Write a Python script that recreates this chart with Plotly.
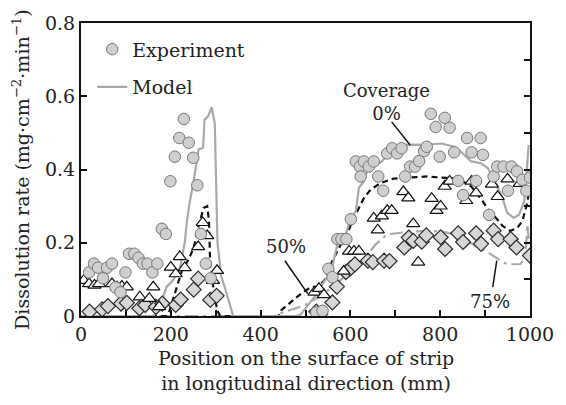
import plotly.graph_objects as go

# ---------------- data ----------------
# Experiment, coverage 0 % (circles)
exp0_x = [18, 29, 38, 49, 58, 69, 77, 88, 99, 107, 119, 128, 138, 148, 159, 170, 180, 189, 199, 209,
          219, 229, 240, 250, 259, 267, 278, 289,
          524, 538, 551, 560, 571, 580, 591, 601, 612, 621, 623, 630, 641, 652, 662, 673, 682, 693,
          704, 714, 722, 733, 744, 753, 764, 770, 779, 790, 799, 810, 821, 831, 840, 851, 860, 870,
          880, 890, 895, 909, 919, 927, 941, 951, 959, 971, 983, 992, 1000]
exp0_y = [0.119, 0.143, 0.132, 0.103, 0.132, 0.143, 0.078, 0.065, 0.119, 0.170, 0.170, 0.159, 0.143,
          0.143, 0.119, 0.143, 0.238, 0.224, 0.368, 0.435, 0.486, 0.538, 0.473, 0.432, 0.357, 0.224,
          0.143, 0.103,
          0.010, 0.014, 0.129, 0.106, 0.210, 0.210, 0.210, 0.264, 0.422, 0.408, 0.381, 0.422, 0.408,
          0.422, 0.381, 0.342, 0.444, 0.458, 0.444, 0.458, 0.381, 0.408, 0.408, 0.423, 0.450, 0.462,
          0.552, 0.516, 0.435, 0.541, 0.514, 0.447, 0.369, 0.330, 0.486, 0.447, 0.369, 0.486, 0.440,
          0.276, 0.381, 0.408, 0.408, 0.342, 0.408, 0.395, 0.372, 0.342, 0.378]

# Experiment, coverage 50 % (triangles)
exp50_x = [6, 18, 30, 40, 69, 80, 91, 102, 131, 152, 161, 174, 200, 211, 220, 231, 261, 271, 281, 294, 303,
           520, 530, 541, 585, 597, 608, 619, 652, 661, 670, 682, 692, 718, 729, 740, 751, 781, 792, 801,
           810, 821, 858, 870, 880, 915, 928, 950, 977, 998]
exp50_y = [0.097, 0.088, 0.084, 0.088, 0.088, 0.079, 0.081, 0.079, 0.052, 0.048, 0.079, 0.025, 0.133,
           0.115, 0.162, 0.132, 0.189, 0.255, 0.219, 0.097, 0.124,
           0.065, 0.075, 0.058, 0.122, 0.177, 0.177, 0.177, 0.267, 0.235, 0.273, 0.288, 0.288, 0.339,
           0.322, 0.252, 0.147, 0.321, 0.288, 0.300, 0.354, 0.368, 0.315, 0.368, 0.336, 0.360, 0.326,
           0.374, 0.362, 0.374]

# Experiment, coverage 75 % (diamonds)
exp75_x = [19, 47, 60, 89, 102, 130, 143, 167, 181, 211, 222, 251, 261, 288, 302,
           524, 533, 560, 570, 590, 600, 610, 639, 650, 675, 687, 720, 730, 740, 759, 769, 801, 811,
           840, 851, 880, 891, 919, 929, 957, 970, 1000]
exp75_y = [0.012, 0.018, 0.027, 0.034, 0.036, 0.021, 0.030, 0.025, 0.034, 0.030, 0.045, 0.072, 0.102,
           0.044, 0.055,
           0.012, 0.005, 0.037, 0.080, 0.120, 0.130, 0.141, 0.151, 0.147, 0.151, 0.150, 0.187, 0.214,
           0.205, 0.203, 0.220, 0.215, 0.183, 0.226, 0.202, 0.226, 0.197, 0.233, 0.210, 0.210, 0.187,
           0.165]

# Model, coverage 0 % (solid gray)
mod0_x = [0, 160, 170, 183, 191, 203, 211, 219, 225, 231, 236, 242, 251, 256, 262, 269, 272, 275, 283,
          291, 298, 304, 312, 321, 332, 339, 480, 490, 512, 525, 542, 557, 571, 580, 590, 601, 612, 619,
          630, 637, 652, 670, 692, 714, 740, 758, 803, 832, 850, 869, 891, 906, 924, 939, 949, 964, 976,
          987, 993, 997]
mod0_y = [0, 0, 0.01, 0.05, 0.08, 0.095, 0.11, 0.12, 0.165, 0.20, 0.26, 0.31, 0.37, 0.41, 0.455, 0.458,
          0.46, 0.535, 0.545, 0.57, 0.525, 0.20, 0.11, 0.075, 0.025, 0, 0, 0.005, 0.04, 0.06, 0.095,
          0.12, 0.196, 0.21, 0.225, 0.268, 0.286, 0.35, 0.368, 0.395, 0.408, 0.422, 0.453, 0.467, 0.468,
          0.467, 0.471, 0.462, 0.444, 0.422, 0.417, 0.404, 0.363, 0.322, 0.282, 0.268, 0.277, 0.313,
          0.40, 0.467]

# Model, coverage 50 % (black dashed)
mod50_x = [0, 190, 196, 207, 215, 225, 240, 251, 261, 273, 281, 285, 288, 295, 303, 310, 440, 446, 468,
           490, 512, 527, 542, 560, 579, 597, 608, 619, 630, 645, 667, 696, 725, 770, 803, 840, 869, 895,
           909, 924, 939, 956, 972, 983, 993, 998]
mod50_y = [0, 0, 0.01, 0.055, 0.088, 0.125, 0.155, 0.187, 0.241, 0.295, 0.30, 0.26, 0.13, 0.07, 0.016,
           0, 0, 0.016, 0.039, 0.061, 0.079, 0.08, 0.097, 0.151, 0.196, 0.237, 0.268, 0.295, 0.322,
           0.345, 0.363, 0.375, 0.378, 0.381, 0.378, 0.375, 0.354, 0.313, 0.286, 0.268, 0.246, 0.232,
           0.241, 0.259, 0.305, 0.34]

# Model, coverage 75 % (gray dash-dot)
mod75_x = [0, 430, 450, 500, 540, 580, 620, 656, 682, 717, 760, 800, 840, 880, 906, 930, 949, 979, 990,
           994, 998]
mod75_y = [0, 0, 0.01, 0.03, 0.06, 0.10, 0.14, 0.195, 0.223, 0.228, 0.232, 0.232, 0.22, 0.19, 0.174,
           0.155, 0.141, 0.142, 0.16, 0.25, 0.2]

x_ticks = [0, 200, 400, 600, 800, 1000]
x_ticktext = ["0", "200", "400", "600", "800", "1000"]
y_ticks = [0, 0.2, 0.4, 0.6, 0.8]
y_ticktext = ["0", "0.2", "0.4", "0.6", "0.8"]
y2_ticks = [0, 0.1, 0.2, 0.3, 0.4, 0.5, 0.6, 0.7, 0.8]

# ---------------- figure ----------------
FONT = "DejaVu Serif"
FS = 19
TXT = "#222222"
GRAY_LINE = "#a9a9a9"
fig = go.Figure()

fig.add_trace(go.Scatter(x=mod75_x, y=mod75_y, mode="lines", showlegend=False,
                         line=dict(color=GRAY_LINE, width=2.2, dash="13px,5px,3px,5px")))
fig.add_trace(go.Scatter(x=mod50_x, y=mod50_y, mode="lines", showlegend=False,
                         line=dict(color="#111111", width=2.2, dash="6px,4px")))
fig.add_trace(go.Scatter(x=mod0_x, y=mod0_y, mode="lines", name="Model", legendgroup="m",
                         legendrank=2, line=dict(color=GRAY_LINE, width=2.2)))

fig.add_trace(go.Scatter(x=exp75_x, y=exp75_y, mode="markers", showlegend=False,
                         marker=dict(symbol="diamond", size=11.5, color="#d6d6d6",
                                     line=dict(color="#2a2a2a", width=1.2))))
fig.add_trace(go.Scatter(x=exp50_x, y=exp50_y, mode="markers", showlegend=False,
                         marker=dict(symbol="triangle-up", size=11.5, color="white",
                                     line=dict(color="#111111", width=1.2))))
fig.add_trace(go.Scatter(x=exp0_x, y=exp0_y, mode="markers", name="Experiment", legendgroup="e",
                         legendrank=1,
                         marker=dict(symbol="circle", size=11.5, color="#cfcfcf",
                                     line=dict(color="#757575", width=1))))
# invisible trace to activate the right axis
fig.add_trace(go.Scatter(x=[0], y=[0], yaxis="y2", mode="markers", showlegend=False,
                         marker=dict(opacity=0), hoverinfo="skip"))

fig.update_layout(
    width=566, height=405,
    margin=dict(l=81, r=31, t=19, b=89),
    paper_bgcolor="white", plot_bgcolor="white",
    font=dict(family=FONT, size=FS, color=TXT),
    showlegend=True,
    legend=dict(x=0.025, y=0.975, xanchor="left", yanchor="top", bgcolor="rgba(0,0,0,0)",
                font=dict(family=FONT, size=FS, color=TXT), tracegroupgap=10,
                itemwidth=30),
    xaxis=dict(range=[0, 1000], tickvals=x_ticks, ticktext=x_ticktext, ticks="inside",
               ticklen=6, tickwidth=2, tickcolor="#111111", showline=True, linecolor="#111111",
               linewidth=2, mirror=True, showgrid=False, zeroline=False,
               minor=dict(dtick=100, ticks="inside", ticklen=6, tickwidth=2, tickcolor="#111111",
                          showgrid=False),
               tickfont=dict(family=FONT, size=FS)),
    yaxis=dict(range=[0, 0.8], tickvals=y_ticks, ticktext=y_ticktext, ticks="inside",
               ticklen=6, tickwidth=2, tickcolor="#111111", showline=True, linecolor="#111111",
               linewidth=2, mirror=True, showgrid=False, zeroline=False,
               tickfont=dict(family=FONT, size=FS)),
    yaxis2=dict(range=[0, 0.8], overlaying="y", side="right", tickvals=y2_ticks, ticks="inside",
                ticklen=6, tickwidth=2, tickcolor="#111111", showticklabels=False, showline=False,
                showgrid=False, zeroline=False),
)

# axis titles
fig.add_annotation(text="Position on the surface of strip<br>in longitudinal direction (mm)",
                   xref="paper", yref="paper", x=0.5, y=-0.1, xanchor="center", yanchor="top",
                   showarrow=False, font=dict(family=FONT, size=FS, color=TXT))
fig.add_annotation(text="Dissolution rate (mg·cm<sup>−2</sup>·min<sup>−1</sup>)",
                   xref="paper", yref="paper", x=-0.135, y=0.5, xanchor="center", yanchor="middle",
                   textangle=-90, showarrow=False, font=dict(family=FONT, size=FS, color=TXT))

# coverage labels
labels = [("Coverage<br>0%", 680, 0.585), ("50%", 457, 0.19), ("75%", 910, 0.039)]
for txt, lx, ly in labels:
    fig.add_annotation(text=txt, x=lx, y=ly, xref="x", yref="y", showarrow=False,
                       font=dict(family=FONT, size=18, color=TXT))
leaders = [(692, 0.53, 733, 0.467), (454, 0.151, 505, 0.061), (917, 0.079, 926, 0.151)]
for x0, y0, x1, y1 in leaders:
    fig.add_shape(type="line", x0=x0, y0=y0, x1=x1, y1=y1, xref="x", yref="y",
                  line=dict(color="#111111", width=1.5))

fig.write_html("out.html")
